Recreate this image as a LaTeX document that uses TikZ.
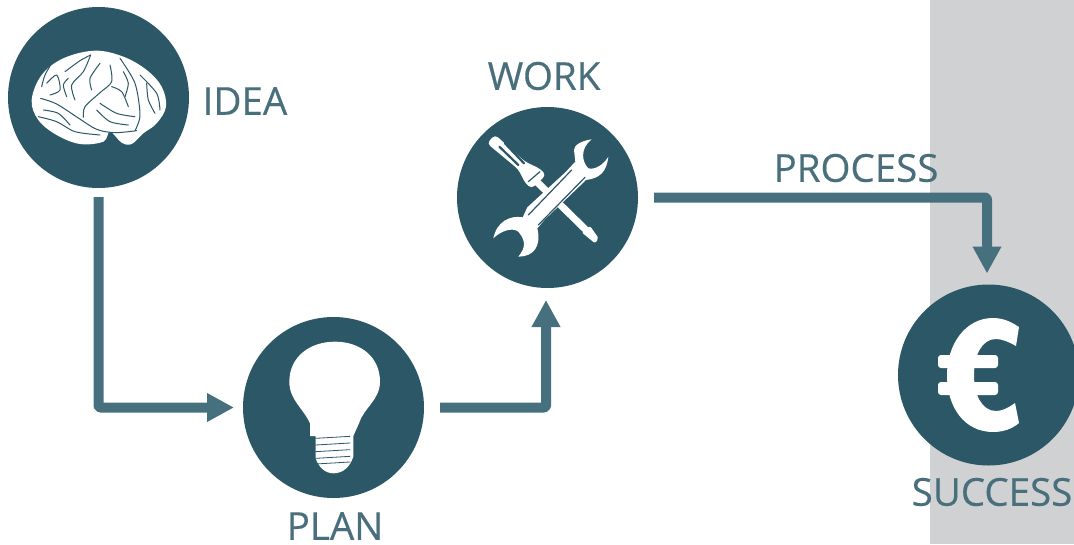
\documentclass[tikz,border=0pt]{standalone}
\usepackage{fontspec}
\setmainfont{Open Sans}
\newfontfamily\labelfont[FakeBold=0.35]{Open Sans}
\usetikzlibrary{arrows.meta}
\definecolor{circleteal}{HTML}{2B5766}
\definecolor{arrowteal}{HTML}{46707E}
\definecolor{labelteal}{HTML}{4A6F7C}
\definecolor{panelgrey}{HTML}{D0D1D3}
\tikzset{stage/.style={circle, fill=circleteal, minimum size=181pt, inner sep=0pt, outer sep=9pt},
label/.style={text=labelteal, font=\labelfont\fontsize{38.5}{38.5}\selectfont, inner sep=0pt},
link/.style={draw=arrowteal, line width=10pt, line join=round, rounded corners=2pt, -{Triangle[width=27pt,length=27pt]}},
groove/.style={draw=circleteal, line width=2.2pt, line cap=round, line join=round},
sulcus/.style={groove, line width=1pt, smooth}}

\begin{document}
\begin{tikzpicture}[x=1pt,y=-1pt]

    \useasboundingbox (0,0) rectangle (1074,544);
    \fill[panelgrey] (930,0) rectangle (1074,544);

    \node[stage] (idea) at (98.5,97.5) {};
    \node[stage] (plan) at (333.5,407.5) {};
    \node[stage] (work) at (547.5,197.5) {};
    \node[stage] (success) at (988.5,375) {};

    \node[label] (idealabel) at (245,101) {IDEA};
    \node[label] (planlabel) at (335,526) {PLAN};
    \node[label] (worklabel) at (544,76) {WORK};
    \node[label] (processlabel) at (856,168) {PROCESS};
    \node[label] (successlabel) at (992,492) {SUCCESS};

    \draw[link] (idea.south) |- (plan.west);
    \draw[link, shorten <=7pt, shorten >=3pt] (plan.east) -| ([xshift=-1.5pt]work.south);
    \draw[link, shorten <=7pt, shorten >=2pt] (work.east) -| ([xshift=-1.5pt]success.north);

    % brain
    \begin{scope}[scale=1/3]
    \fill[white] plot[smooth cycle, tension=0.6] coordinates {(95,300) (125,225) (190,175) (285,152) (370,170) (440,210) (485,260) (498,320) (470,370) (430,400) (395,432) (365,428) (330,395) (310,425) (240,432) (170,405) (115,360)};
    \draw[sulcus] plot[smooth] coordinates {(122,295) (170,312) (232,352) (290,388) (345,398) (410,392)};
    \draw[sulcus] plot[smooth] coordinates {(330,195) (335,245) (300,278) (255,320) (250,352)};
    \draw[sulcus] plot[smooth] coordinates {(360,175) (405,250) (420,345) (405,392)};
    \draw[sulcus] plot[smooth] coordinates {(195,215) (240,182) (272,165)};
    \draw[sulcus] plot[smooth] coordinates {(272,165) (250,215) (215,255) (225,300)};
    \draw[sulcus] plot[smooth] coordinates {(300,190) (270,235) (275,270)};
    \draw[sulcus] plot[smooth] coordinates {(335,260) (365,275) (385,320)};
    \draw[sulcus] plot[smooth] coordinates {(140,250) (170,225) (180,270) (150,285)};
    \draw[sulcus] plot[smooth] coordinates {(115,350) (170,365) (225,395) (300,405)};
    \draw[sulcus] plot[smooth] coordinates {(420,225) (470,280) (480,330)};
    \draw[sulcus] plot[smooth] coordinates {(300,310) (350,340) (405,350)};
    \draw[sulcus] plot[smooth] coordinates {(130,330) (175,340) (210,375)};
    \draw[sulcus] plot[smooth] coordinates {(205,235) (190,255) (200,290)};
    \draw[sulcus] plot[smooth] coordinates {(370,215) (385,250) (375,290)};
    \draw[sulcus] plot[smooth] coordinates {(440,250) (445,300) (465,340)};
    \draw[sulcus] plot[smooth] coordinates {(290,330) (330,365) (385,375)};
    \draw[sulcus] plot[smooth] coordinates {(155,190) (135,225) (125,260)};
    \end{scope}

    % bulb
    \begin{scope}[shift={(235,310)},scale=1/3]
    \fill[white] (225,378) -- (225,340) .. controls (205,295) and (163,270) .. (163,215)
      .. controls (163,140) and (225,95) .. (300,95)
      .. controls (375,95) and (435,140) .. (435,215)
      .. controls (435,270) and (385,295) .. (372,340) -- (355,378)
      -- (355,440) .. controls (345,470) and (325,490) .. (295,490)
      .. controls (270,490) and (250,470) .. (242,445) -- (242,378) -- cycle;
    \foreach \thread in {385,405,425,445,462}
      \draw[groove, line width=0.8pt] (242,\thread) -- (345,\thread-6);
    \end{scope}

    % screwdriver and wrench
    \begin{scope}[shift={(450,100)},scale=1/3]
    \draw[white, line width=7pt] (250,235) -- (410,392);
    \fill[white, rounded corners=2pt] (395,397) -- (420,378) -- (446,415) -- (435,430) -- cycle;
    \fill[white, rounded corners=4pt] (111,130) -- (135,104) -- (225,185) -- (270,206) -- (288,225) -- (245,266) -- (226,250) -- (205,208) -- cycle;
    \draw[groove] (148,140) -- (205,195);
    \draw[groove] (165,130) -- (222,190);
    \draw[groove, line width=1.2pt] (235,245) -- (270,215);
    \fill[white] (425,118) .. controls (395,122) and (372,135) .. (372,150)
      -- (376,185) -- (345,218) -- (232,322) -- (218,352)
      .. controls (180,345) and (140,365) .. (130,415)
      .. controls (150,395) and (185,380) .. (205,395)
      .. controls (230,425) and (225,445) .. (205,470)
      .. controls (250,470) and (275,440) .. (262,385)
      -- (285,358) -- (408,240)
      .. controls (450,235) and (470,215) .. (475,170)
      .. controls (460,195) and (435,210) .. (415,205)
      .. controls (395,185) and (390,145) .. (425,118) -- cycle;
    \draw[groove, line width=1.2pt] (235,345) -- (365,210);
    \draw[groove, line width=1.2pt] (265,375) -- (405,232);
    \end{scope}

    % euro
    \fill[white] (1019,327) .. controls (1010,321) and (1002,318) .. (993,318)
      .. controls (965,318) and (947,345) .. (947,375)
      .. controls (947,408) and (965,432) .. (993,432)
      .. controls (1003,432) and (1012,429) .. (1019,423)
      -- (1015,403) .. controls (1008,408) and (1002,411) .. (996,411)
      .. controls (982,411) and (974,395) .. (974,375)
      .. controls (974,355) and (982,339) .. (996,339)
      .. controls (1002,339) and (1009,342) .. (1016,346) -- cycle;
    \foreach \ybar in {355,382}
      \fill[white, rounded corners=3pt] (938,\ybar) rectangle (998,\ybar+13);

\end{tikzpicture}
\end{document}
